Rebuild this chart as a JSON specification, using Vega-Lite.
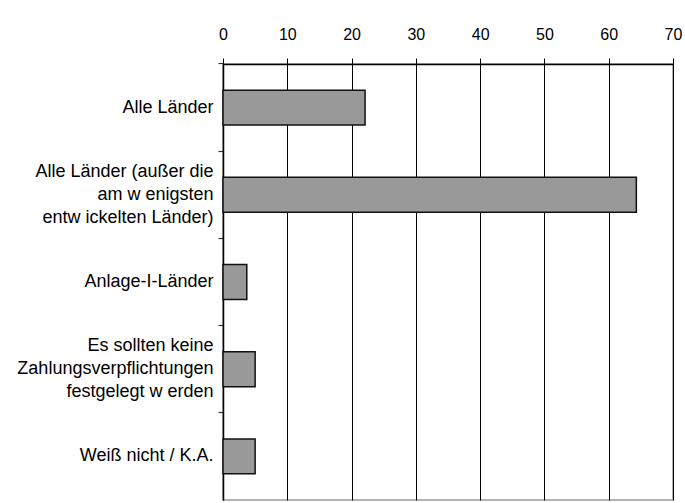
{
  "$schema": "https://vega.github.io/schema/vega-lite/v6.json",
  "autosize": {"type": "none"},
  "width": 450,
  "height": 436,
  "padding": {"left": 223, "top": 64, "right": 12, "bottom": 3},
  "background": "white",
  "config": {
    "font": "Liberation Sans",
    "view": {"stroke": "#999999", "strokeWidth": 1.5}
  },
  "data": {
    "values": [
      {"kategorie": "Alle Länder", "wert": 22.1},
      {"kategorie": "Alle Länder (außer die|am w enigsten|entw ickelten Länder)", "wert": 64.3},
      {"kategorie": "Anlage-I-Länder", "wert": 3.7},
      {"kategorie": "Es sollten keine|Zahlungsverpflichtungen|festgelegt w erden", "wert": 5.0},
      {"kategorie": "Weiß nicht / K.A.", "wert": 5.0}
    ]
  },
  "mark": {"type": "bar", "color": "#999999", "stroke": "#111111", "strokeWidth": 1.5},
  "encoding": {
    "y": {
      "field": "kategorie",
      "type": "nominal",
      "sort": null,
      "title": null,
      "scale": {"paddingInner": 0.6, "paddingOuter": 0.3},
      "axis": {
        "labelExpr": "indexof(datum.label, '|') >= 0 ? split(datum.label, '|') : ['', datum.label]",
        "labelFont": "Liberation Sans",
        "labelFontSize": 18,
        "labelColor": "#000000",
        "labelLineHeight": 23,
        "bandPosition": -0.75,
        "labelOffset": -23,
        "labelPadding": 5,
        "labelLimit": 222,
        "ticks": true,
        "tickSize": 5,
        "tickWidth": 1.2,
        "tickColor": "#333333",
        "domainColor": "#000000",
        "domainWidth": 1.5
      }
    },
    "x": {
      "field": "wert",
      "type": "quantitative",
      "title": null,
      "scale": {"domain": [0, 70], "nice": false},
      "axis": {
        "orient": "top",
        "values": [0, 10, 20, 30, 40, 50, 60, 70],
        "labelFont": "Liberation Sans",
        "labelFontSize": 16,
        "labelColor": "#000000",
        "labelPadding": 16,
        "labelFlush": false,
        "tickSize": 6,
        "tickColor": "#000000",
        "domainColor": "#000000",
        "domainWidth": 1.5,
        "grid": true,
        "gridColor": "#000000",
        "gridWidth": 1,
        "gridOpacity": 1
      }
    }
  }
}
